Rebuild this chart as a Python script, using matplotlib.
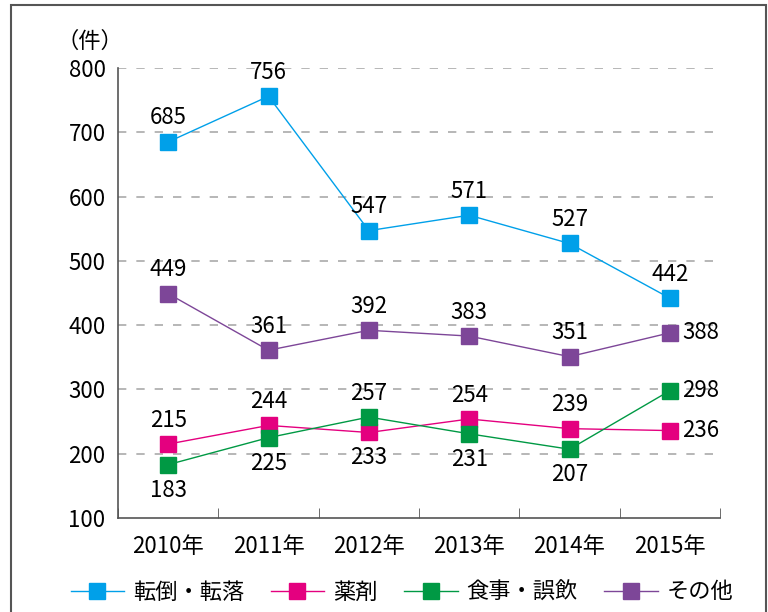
import matplotlib
matplotlib.use("Agg")
import matplotlib.pyplot as plt
from matplotlib.patches import Rectangle

plt.rcParams['font.family'] = ['Noto Sans CJK JP', 'DejaVu Sans']

years = ['2010年', '2011年', '2012年', '2013年', '2014年', '2015年']
series_names = ['転倒・転落', '薬剤', '食事・誤飲', 'その他']
tentou = [685, 756, 547, 571, 527, 442]
yakuzai = [215, 244, 233, 254, 239, 236]
shokuji = [183, 225, 257, 231, 207, 298]
sonota = [449, 361, 392, 383, 351, 388]

colors = ['#00A0E9', '#E4007F', '#009944', '#7D4698']
# label position per point: 'a' above, 'b' below, 'r' right
label_pos = [
    ['a', 'a', 'a', 'a', 'a', 'a'],
    ['a', 'a', 'b', 'a', 'a', 'r'],
    ['b', 'b', 'a', 'b', 'b', 'r'],
    ['a', 'a', 'a', 'a', 'a', 'r'],
]

fs = 16

fig = plt.figure(figsize=(7.68, 6.12), dpi=100)
ax = fig.add_axes([118 / 768, 1 - 518 / 612, (720 - 118) / 768, (518 - 68) / 612])

x = list(range(len(years)))
data = [tentou, yakuzai, shokuji, sonota]
for vals, name, c, pos in zip(data, series_names, colors, label_pos):
    ax.plot(x, vals, color=c, lw=1.0, marker='s', markersize=12, label=name, zorder=3)
    for xi, v, p in zip(x, vals, pos):
        if p == 'a':
            ax.annotate(str(v), (xi, v), xytext=(0, 9), textcoords='offset points',
                        ha='center', va='bottom', fontsize=fs)
        elif p == 'b':
            ax.annotate(str(v), (xi, v), xytext=(0, -10), textcoords='offset points',
                        ha='center', va='top', fontsize=fs)
        else:
            ax.annotate(str(v), (xi, v), xytext=(9, 0), textcoords='offset points',
                        ha='left', va='center', fontsize=fs)

ax.set_xlim(-0.5, 5.5)
ax.set_ylim(100, 800)
ax.set_yticks(range(100, 801, 100))
ax.tick_params(axis='y', length=0, labelsize=fs, pad=9)
ax.set_xticks(x)
ax.set_xticklabels(years, fontsize=fs)
ax.tick_params(axis='x', length=0, pad=12)
ax.set_xticks([i - 0.5 for i in range(7)], minor=True)
ax.tick_params(axis='x', which='minor', direction='in', length=7, color='#555555')

for yv in range(200, 801, 100):
    ax.axhline(yv, color='#aaaaaa', lw=1.2, ls=(0, (5, 6)), zorder=1)

for s in ['top', 'right']:
    ax.spines[s].set_visible(False)
for s in ['left', 'bottom']:
    ax.spines[s].set_color('#555555')
    ax.spines[s].set_linewidth(1.2)

fig.text(90 / 768, 1 - 41 / 612, '（件）', ha='center', va='center', fontsize=fs)

fig.legend(loc='center', bbox_to_anchor=(402 / 768, 1 - 592 / 612), ncol=4, frameon=False,
           fontsize=fs, handlelength=2.4, columnspacing=1.2, handletextpad=0.4)

fig.add_artist(Rectangle((11 / 768, -0.05), (766 - 11) / 768, 1 - 5 / 612 + 0.05,
                         transform=fig.transFigure, fill=False, edgecolor='#555555', lw=1.5))

fig.savefig('out.png', dpi=100)
